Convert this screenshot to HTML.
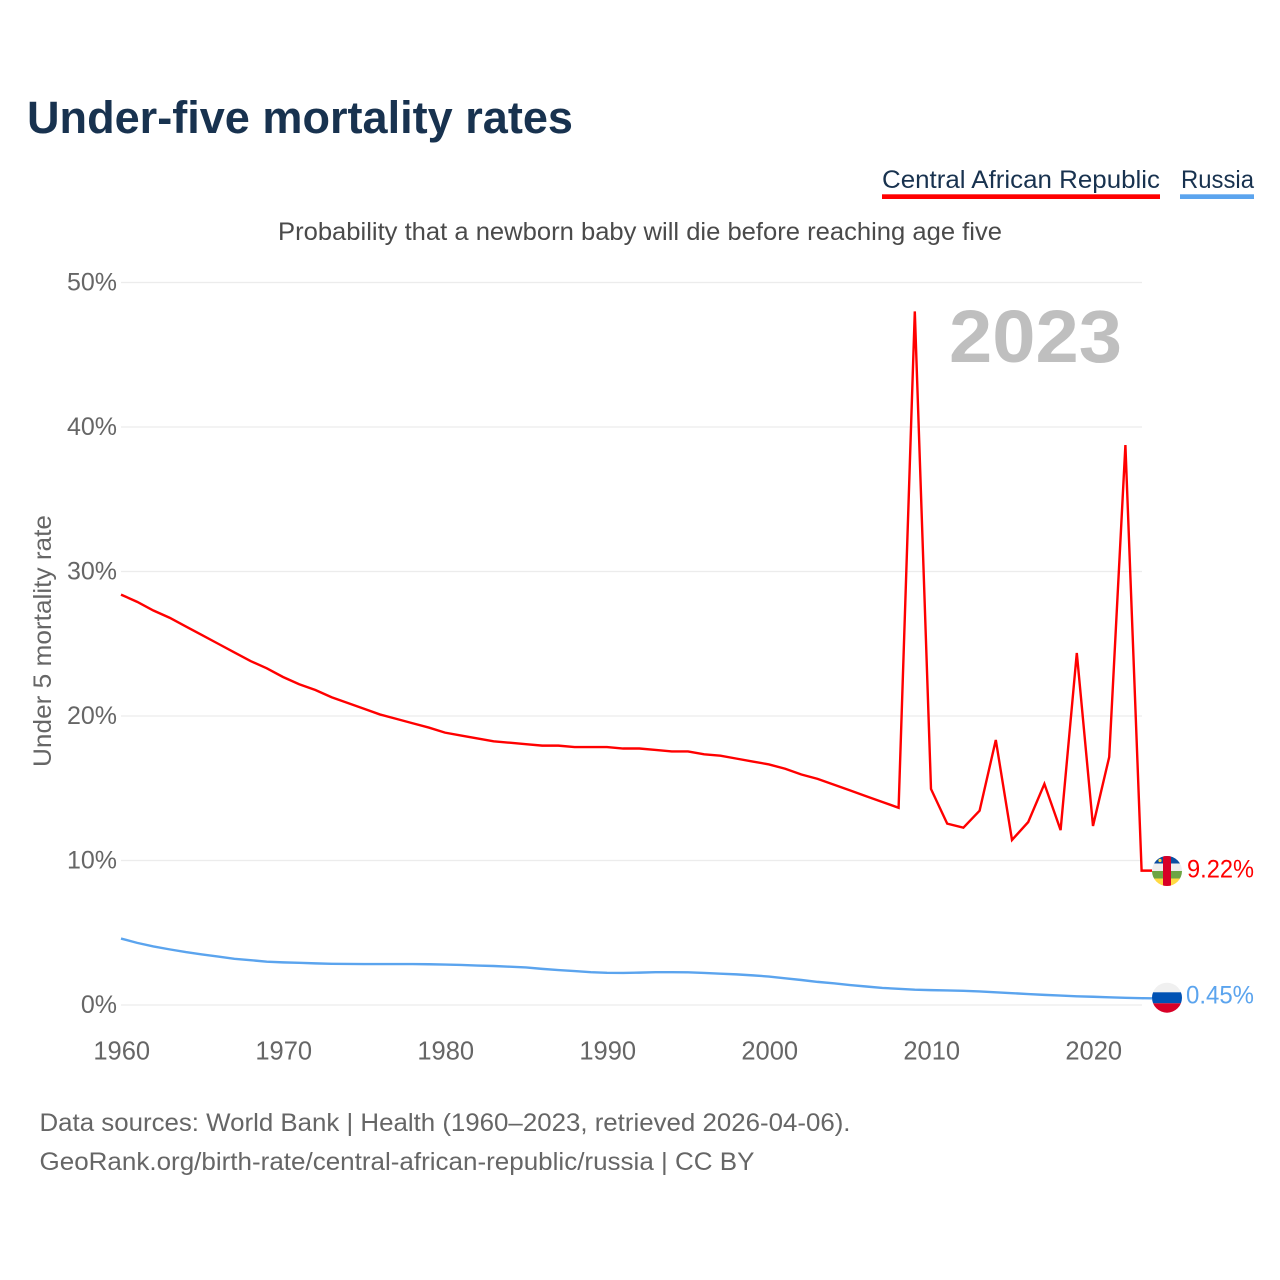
<!DOCTYPE html>
<html lang="en">
<head>
<meta charset="utf-8">
<title>Under-five mortality rates</title>
<style>
html,body{margin:0;padding:0;background:#fff;}
svg{display:block;font-family:"Liberation Sans",sans-serif;}
</style>
</head>
<body>
<svg id="chart" xmlns="http://www.w3.org/2000/svg" width="1280" height="1280" viewBox="0 0 1280 1280">
  <defs>
    <clipPath id="clip-car"><circle cx="1167" cy="871" r="15"/></clipPath>
    <clipPath id="clip-ru"><circle cx="1167" cy="997.7" r="15"/></clipPath>
  </defs>
  <text x="27" y="133" font-size="45" font-weight="700" fill="#18324f" textLength="546" lengthAdjust="spacingAndGlyphs">Under-five mortality rates</text>

  <g>
    <text x="882" y="188" font-size="25" fill="#18324f" textLength="278" lengthAdjust="spacingAndGlyphs">Central African Republic</text>
    <rect x="882" y="194.3" width="278" height="4.7" fill="#ff0000"/>
  </g>
  <g>
    <text x="1181" y="188" font-size="25" fill="#18324f" textLength="73" lengthAdjust="spacingAndGlyphs">Russia</text>
    <rect x="1180" y="194.3" width="74" height="4.7" fill="#5ba4ee"/>
  </g>

  <text x="278" y="240" font-size="25" fill="#4a4a4a" textLength="724" lengthAdjust="spacingAndGlyphs">Probability that a newborn baby will die before reaching age five</text>

  <g id="grid"></g>
  <g id="y-ticks"></g>
  <g id="x-ticks"></g>

  <text transform="translate(51,767) rotate(-90)" x="0" y="0" font-size="25" fill="#666666" textLength="252" lengthAdjust="spacingAndGlyphs">Under 5 mortality rate</text>

  <text x="949" y="362" font-size="74" font-weight="700" fill="#bfbfbf" textLength="173" lengthAdjust="spacingAndGlyphs">2023</text>

  <g id="series"></g>

  <g clip-path="url(#clip-car)">
    <rect x="1152" y="856" width="30" height="7.6" fill="#0b4ea2"/>
    <rect x="1152" y="863.5" width="30" height="7.6" fill="#eeeeee"/>
    <rect x="1152" y="871" width="30" height="7.6" fill="#6da544"/>
    <rect x="1152" y="878.5" width="30" height="8" fill="#ffda44"/>
    <rect x="1163" y="856" width="8" height="31" fill="#d80027"/>
    <circle cx="1160" cy="860.5" r="1.6" fill="#ffda44"/>
  </g>
  <g clip-path="url(#clip-ru)">
    <rect x="1152" y="982" width="30" height="10.5" fill="#f0f0f0"/>
    <rect x="1152" y="992.3" width="30" height="11" fill="#0052b4"/>
    <rect x="1152" y="1003.3" width="30" height="10.5" fill="#d80027"/>
  </g>

  <text x="1187" y="877.5" font-size="25" fill="#ff0000" textLength="67" lengthAdjust="spacingAndGlyphs">9.22%</text>
  <text x="1186" y="1003.5" font-size="25" fill="#5ba4ee" textLength="68" lengthAdjust="spacingAndGlyphs">0.45%</text>

  <text x="39.5" y="1131" font-size="25" fill="#666666" textLength="811" lengthAdjust="spacingAndGlyphs">Data sources: World Bank | Health (1960–2023, retrieved 2026-04-06).</text>
  <text x="39.5" y="1170" font-size="25" fill="#666666" textLength="715" lengthAdjust="spacingAndGlyphs">GeoRank.org/birth-rate/central-african-republic/russia | CC BY</text>
</svg>
<script>
var startYear = 1960;
var carValues = [28.4,27.9,27.3,26.8,26.2,25.6,25.0,24.4,23.8,23.3,22.7,22.2,21.8,21.3,20.9,20.5,20.1,19.8,19.5,19.2,18.85,18.65,18.45,18.25,18.15,18.05,17.95,17.95,17.85,17.85,17.85,17.75,17.75,17.65,17.55,17.55,17.35,17.25,17.05,16.85,16.65,16.35,15.95,15.65,15.25,14.85,14.45,14.05,13.65,48.0,14.95,12.55,12.27,13.45,18.34,11.42,12.66,15.3,12.1,24.36,12.39,17.16,38.75,9.3];
var russiaValues = [4.6,4.3,4.05,3.85,3.66,3.5,3.35,3.2,3.1,3.0,2.95,2.92,2.88,2.85,2.84,2.83,2.83,2.83,2.83,2.82,2.8,2.77,2.73,2.7,2.65,2.6,2.5,2.42,2.35,2.27,2.23,2.22,2.24,2.27,2.27,2.26,2.22,2.17,2.12,2.05,1.97,1.85,1.73,1.6,1.5,1.38,1.28,1.18,1.12,1.06,1.03,1.01,0.98,0.94,0.88,0.82,0.76,0.7,0.65,0.6,0.57,0.53,0.5,0.47];
var carEndValue = 9.3;
var russiaEndValue = 0.46;
var yTickValues = [0,10,20,30,40,50];
var yTickLabels = ["0%","10%","20%","30%","40%","50%"];
var xTickValues = [1960,1970,1980,1990,2000,2010,2020];
var xTickLabels = ["1960","1970","1980","1990","2000","2010","2020"];

var SVG_NS = "http://www.w3.org/2000/svg";
function xScale(year){ return 121 + (year - 1960) * 16.2; }
function yScale(v){ return 1005 - v * 14.45; }

var grid = document.getElementById("grid");
var yTicks = document.getElementById("y-ticks");
var xTicks = document.getElementById("x-ticks");
var seriesGroup = document.getElementById("series");

yTickValues.forEach(function(v, i){
  var line = document.createElementNS(SVG_NS, "line");
  
  
  line.setAttribute("x1", 121);
  line.setAttribute("x2", 1142);
  line.setAttribute("y1", yScale(v));
  line.setAttribute("y2", yScale(v));
  line.setAttribute("stroke", "#ececec");
  line.setAttribute("stroke-width", "1.3");
  grid.appendChild(line);

  var t = document.createElementNS(SVG_NS, "text");
  
  
  t.setAttribute("x", 117);
  t.setAttribute("y", yScale(v) + 8);
  t.setAttribute("text-anchor", "end");
  t.setAttribute("font-size", "25");
  t.setAttribute("fill", "#666666");
  t.textContent = yTickLabels[i];
  yTicks.appendChild(t);
});

xTickValues.forEach(function(year, i){
  var t = document.createElementNS(SVG_NS, "text");
  
  
  t.setAttribute("x", xScale(year) + 0.7);
  t.setAttribute("y", 1059.5);
  t.setAttribute("text-anchor", "middle");
  t.setAttribute("font-size", "25.5");
  t.setAttribute("fill", "#666666");
  t.textContent = xTickLabels[i];
  xTicks.appendChild(t);
});

function pointsFor(values, endValue){
  var pts = values.map(function(v, i){
    return xScale(startYear + i).toFixed(2) + "," + yScale(v).toFixed(2);
  });
  pts.push("1152," + yScale(endValue).toFixed(2));
  return pts.join(" ");
}

var russiaLine = document.createElementNS(SVG_NS, "polyline");


russiaLine.setAttribute("points", pointsFor(russiaValues, russiaEndValue));
russiaLine.setAttribute("fill", "none");
russiaLine.setAttribute("stroke", "#5ba4ee");
russiaLine.setAttribute("stroke-width", "2.4");
seriesGroup.appendChild(russiaLine);

var carLine = document.createElementNS(SVG_NS, "polyline");


carLine.setAttribute("points", pointsFor(carValues, carEndValue));
carLine.setAttribute("fill", "none");
carLine.setAttribute("stroke", "#ff0000");
carLine.setAttribute("stroke-width", "2.4");
carLine.setAttribute("stroke-linejoin", "miter");
seriesGroup.appendChild(carLine);
</script>
</body>
</html>
